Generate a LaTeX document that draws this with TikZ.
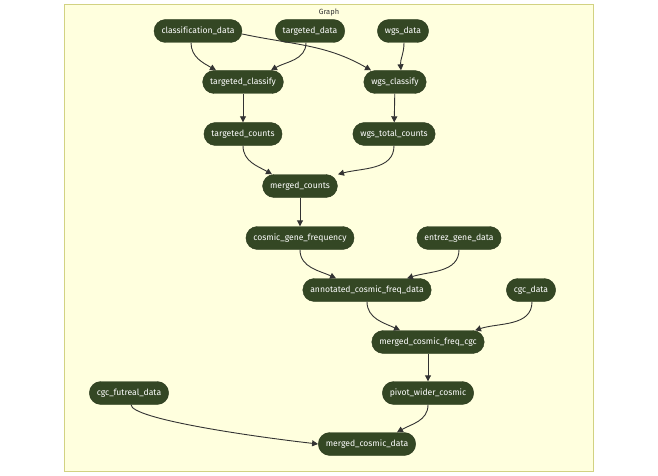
\documentclass[tikz,border=0pt]{standalone}
\usepackage{fontspec}
\setmainfont{Fira Sans}[Ligatures=NoCommon]
\usepackage{tikz}
\usetikzlibrary{arrows.meta}
\definecolor{plbg}{HTML}{FFFFDE}
\definecolor{plframe}{HTML}{D2D282}
\definecolor{plnode}{HTML}{344724}
\definecolor{plline}{HTML}{333333}
\tikzset{
  plstage/.style={
    rounded corners=11.5pt,
    fill=plnode,
    draw=plnode!80!black,
    text=white,
    font=\fontsize{8.6}{9}\selectfont,
    inner xsep=7.5pt,
    inner ysep=0pt,
    minimum height=23pt
  },
  plflow/.style={-{Triangle[length=6pt,width=6pt]},line width=0.9pt,plline},
  plgroup/.style={draw=plframe,fill=plbg,line width=1pt},
  pltitle/.style={font=\fontsize{7.5}{8}\selectfont,text=plline}
}
\begin{document}
\begin{tikzpicture}[x=1pt,y=-1pt]
  \useasboundingbox (0,0) rectangle (658,476);
  \draw[plgroup] (64,4.5) rectangle (593.5,471);
  \node[pltitle] (title) at (329,12) {Graph};

  % inputs
  \node[plstage] (classdata) at (198,31) {classification\_data};
  \node[plstage] (targdata) at (310,31) {targeted\_data};
  \node[plstage] (wgsdata) at (403,31) {wgs\_data};
  % classify
  \node[plstage] (targclass) at (243,82) {targeted\_classify};
  \node[plstage] (wgsclass) at (395,82) {wgs\_classify};
  % counts
  \node[plstage] (targcounts) at (243,134) {targeted\_counts};
  \node[plstage] (wgscounts) at (394,134) {wgs\_total\_counts};
  \node[plstage] (mergedcounts) at (300,186) {merged\_counts};
  % cosmic
  \node[plstage] (genefreq) at (300,238) {cosmic\_gene\_frequency};
  \node[plstage] (entrez) at (459,238) {entrez\_gene\_data};
  \node[plstage] (annotated) at (367,290) {annotated\_cosmic\_freq\_data};
  \node[plstage] (cgcdata) at (531,290) {cgc\_data};
  \node[plstage] (mergedcgc) at (428,342) {merged\_cosmic\_freq\_cgc};
  \node[plstage] (futreal) at (129,393) {cgc\_futreal\_data};
  \node[plstage] (pivot) at (428,393) {pivot\_wider\_cosmic};
  \node[plstage] (mergeddata) at (367,444) {merged\_cosmic\_data};

  \draw[plflow] ([xshift=-7pt]classdata.south) to[out=-90,in=150] ([xshift=-27pt]targclass.north);
  \draw[plflow] ([xshift=-4pt]targdata.south) to[out=-90,in=30] ([xshift=28pt]targclass.north);
  \draw[plflow] ([yshift=-3pt]classdata.east) to[out=-12,in=150] ([xshift=-24pt]wgsclass.north);
  \draw[plflow] ([xshift=1pt]wgsdata.south) to[out=-90,in=95] ([xshift=6pt]wgsclass.north);
  \draw[plflow] (targclass) -- (targcounts);
  \draw[plflow] (wgsclass) -- (wgscounts);
  \draw[plflow] (targcounts.south) to[out=-90,in=150] ([xshift=-28pt]mergedcounts.north);
  \draw[plflow] (wgscounts.south) to[out=-90,in=15] ([xshift=38pt]mergedcounts.north);
  \draw[plflow] (mergedcounts) -- (genefreq);
  \draw[plflow] (genefreq.south) to[out=-90,in=155] ([xshift=-31pt]annotated.north);
  \draw[plflow] (entrez.south) to[out=-90,in=18] ([xshift=40pt]annotated.north);
  \draw[plflow] (annotated.south) to[out=-90,in=155] ([xshift=-28pt]mergedcgc.north);
  \draw[plflow] ([xshift=1pt]cgcdata.south) to[out=-90,in=18] ([xshift=47pt]mergedcgc.north);
  \draw[plflow] (mergedcgc) -- (pivot);
  \draw[plflow] (pivot.south) to[out=-90,in=30] ([xshift=30pt]mergeddata.north);
  \draw[plflow] ([xshift=2pt]futreal.south) .. controls +(0,14) and +(-70,-8) .. (mergeddata.west);
\end{tikzpicture}
\end{document}
